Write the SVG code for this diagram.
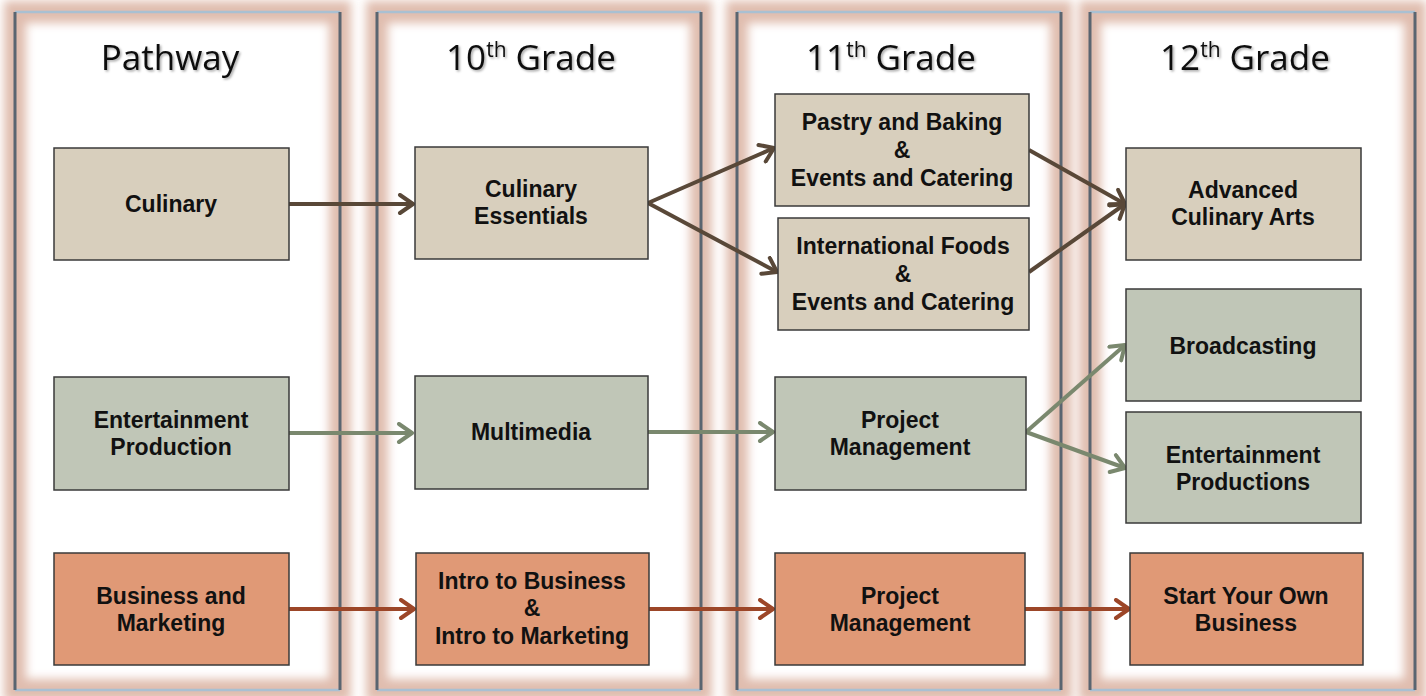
<svg xmlns="http://www.w3.org/2000/svg" width="1426" height="696" viewBox="0 0 1426 696">
<style>
.glow{fill:none;stroke:#dbb2a1;stroke-opacity:0.85;stroke-width:22;filter:url(#blur)}
.side{stroke:#5a6570;stroke-width:3}
.topb{stroke:#a9c0d2;stroke-width:2.5}
.hdr{font-family:"Open Sans","Liberation Sans",sans-serif;font-size:35px;fill:#111;text-anchor:middle;filter:url(#shadow)}
.sup{font-size:21px}
.box{stroke:#3a3a3a;stroke-width:1.5}
.tan{fill:#d8cfbd}
.grn{fill:#c0c6b7}
.sal{fill:#e09976}
.lbl{font-family:"Liberation Sans",Arial,sans-serif;font-weight:bold;font-size:23px;fill:#111;text-anchor:middle}
.a1{stroke:#594838;stroke-width:4;fill:none;marker-end:url(#m1)}
.a2{stroke:#7a886e;stroke-width:4;fill:none;marker-end:url(#m2)}
.a3{stroke:#9c4628;stroke-width:4;fill:none;marker-end:url(#m3)}
</style>
<defs>
<filter id="blur" x="-10%" y="-10%" width="120%" height="120%"><feGaussianBlur stdDeviation="5"/></filter>
<filter id="shadow" x="-10%" y="-20%" width="120%" height="150%"><feDropShadow dx="1.5" dy="1.5" stdDeviation="1.2" flood-color="#000" flood-opacity="0.35"/></filter>
<marker id="m1" viewBox="0 0 22 22" refX="19" refY="11" markerWidth="22" markerHeight="22" markerUnits="userSpaceOnUse" orient="auto"><path d="M6,2 L19,11 L6,20" fill="none" stroke="#594838" stroke-width="4" stroke-linecap="round" stroke-linejoin="round"/></marker>
<marker id="m2" viewBox="0 0 22 22" refX="19" refY="11" markerWidth="22" markerHeight="22" markerUnits="userSpaceOnUse" orient="auto"><path d="M6,2 L19,11 L6,20" fill="none" stroke="#7a886e" stroke-width="4" stroke-linecap="round" stroke-linejoin="round"/></marker>
<marker id="m3" viewBox="0 0 22 22" refX="19" refY="11" markerWidth="22" markerHeight="22" markerUnits="userSpaceOnUse" orient="auto"><path d="M6,2 L19,11 L6,20" fill="none" stroke="#9c4628" stroke-width="4" stroke-linecap="round" stroke-linejoin="round"/></marker>
</defs>
<rect x="0" y="0" width="1426" height="696" fill="#ffffff"/>
<g id="columns">
<g id="col-pathway">
<rect class="glow" x="15" y="12" width="325" height="678"/>
<line class="topb" x1="15" y1="12" x2="340" y2="12"/><line class="topb" x1="15" y1="690" x2="340" y2="690"/>
<line class="side" x1="15" y1="12" x2="15" y2="690"/><line class="side" x1="340" y1="12" x2="340" y2="690"/>
<text class="hdr" x="170" y="70">Pathway</text>
</g>
<g id="col-10">
<rect class="glow" x="377" y="12" width="324" height="678"/>
<line class="topb" x1="377" y1="12" x2="701" y2="12"/><line class="topb" x1="377" y1="690" x2="701" y2="690"/>
<line class="side" x1="377" y1="12" x2="377" y2="690"/><line class="side" x1="701" y1="12" x2="701" y2="690"/>
<text class="hdr" x="531" y="70">10<tspan class="sup" dy="-13">th</tspan><tspan dy="13"> Grade</tspan></text>
</g>
<g id="col-11">
<rect class="glow" x="737" y="12" width="324" height="678"/>
<line class="topb" x1="737" y1="12" x2="1061" y2="12"/><line class="topb" x1="737" y1="690" x2="1061" y2="690"/>
<line class="side" x1="737" y1="12" x2="737" y2="690"/><line class="side" x1="1061" y1="12" x2="1061" y2="690"/>
<text class="hdr" x="891" y="70">11<tspan class="sup" dy="-13">th</tspan><tspan dy="13"> Grade</tspan></text>
</g>
<g id="col-12">
<rect class="glow" x="1090" y="12" width="325" height="678"/>
<line class="topb" x1="1090" y1="12" x2="1415" y2="12"/><line class="topb" x1="1090" y1="690" x2="1415" y2="690"/>
<line class="side" x1="1090" y1="12" x2="1090" y2="690"/><line class="side" x1="1415" y1="12" x2="1415" y2="690"/>
<text class="hdr" x="1245" y="70">12<tspan class="sup" dy="-13">th</tspan><tspan dy="13"> Grade</tspan></text>
</g>
</g>
<g id="connectors">
<line class="a1" x1="289" y1="204" x2="413" y2="204"/>
<line class="a1" x1="648" y1="203" x2="774" y2="148"/>
<line class="a1" x1="648" y1="203" x2="777" y2="272"/>
<line class="a1" x1="1029" y1="150" x2="1125" y2="204"/>
<line class="a1" x1="1029" y1="272" x2="1125" y2="204"/>
<line class="a2" x1="289" y1="433" x2="412" y2="433"/>
<line class="a2" x1="648" y1="432" x2="773" y2="432"/>
<line class="a2" x1="1026" y1="432" x2="1125" y2="345"/>
<line class="a2" x1="1026" y1="432" x2="1125" y2="468"/>
<line class="a3" x1="289" y1="609" x2="414" y2="609"/>
<line class="a3" x1="649" y1="609" x2="773" y2="609"/>
<line class="a3" x1="1025" y1="609" x2="1129" y2="609"/>
</g>
<g id="node-culinary"><rect class="box tan" x="54" y="148" width="235" height="112"/><text class="lbl" x="171" y="212">Culinary</text></g>
<g id="node-culinary-essentials"><rect class="box tan" x="415" y="147" width="233" height="112"/><text class="lbl" x="531" y="197">Culinary</text><text class="lbl" x="531" y="224">Essentials</text></g>
<g id="node-pastry"><rect class="box tan" x="775" y="94" width="254" height="112"/><text class="lbl" x="902" y="130">Pastry and Baking</text><text class="lbl" x="902" y="158">&amp;</text><text class="lbl" x="902" y="186">Events and Catering</text></g>
<g id="node-international"><rect class="box tan" x="778" y="218" width="251" height="112"/><text class="lbl" x="903" y="254">International Foods</text><text class="lbl" x="903" y="282">&amp;</text><text class="lbl" x="903" y="310">Events and Catering</text></g>
<g id="node-advanced"><rect class="box tan" x="1126" y="148" width="235" height="112"/><text class="lbl" x="1243" y="198">Advanced</text><text class="lbl" x="1243" y="225">Culinary Arts</text></g>
<g id="node-entertainment-production"><rect class="box grn" x="54" y="377" width="235" height="113"/><text class="lbl" x="171" y="428">Entertainment</text><text class="lbl" x="171" y="455">Production</text></g>
<g id="node-multimedia"><rect class="box grn" x="415" y="376" width="233" height="113"/><text class="lbl" x="531" y="440">Multimedia</text></g>
<g id="node-pm-mid"><rect class="box grn" x="775" y="377" width="251" height="113"/><text class="lbl" x="900" y="428">Project</text><text class="lbl" x="900" y="455">Management</text></g>
<g id="node-broadcasting"><rect class="box grn" x="1126" y="289" width="235" height="112"/><text class="lbl" x="1243" y="354">Broadcasting</text></g>
<g id="node-entertainment-productions"><rect class="box grn" x="1126" y="412" width="235" height="111"/><text class="lbl" x="1243" y="463">Entertainment</text><text class="lbl" x="1243" y="490">Productions</text></g>
<g id="node-business"><rect class="box sal" x="54" y="553" width="235" height="112"/><text class="lbl" x="171" y="604">Business and</text><text class="lbl" x="171" y="631">Marketing</text></g>
<g id="node-intro"><rect class="box sal" x="416" y="553" width="233" height="112"/><text class="lbl" x="532" y="589">Intro to Business</text><text class="lbl" x="532" y="616">&amp;</text><text class="lbl" x="532" y="644">Intro to Marketing</text></g>
<g id="node-pm-bottom"><rect class="box sal" x="775" y="553" width="250" height="112"/><text class="lbl" x="900" y="604">Project</text><text class="lbl" x="900" y="631">Management</text></g>
<g id="node-start"><rect class="box sal" x="1130" y="553" width="233" height="112"/><text class="lbl" x="1246" y="604">Start Your Own</text><text class="lbl" x="1246" y="631">Business</text></g>
</svg>
